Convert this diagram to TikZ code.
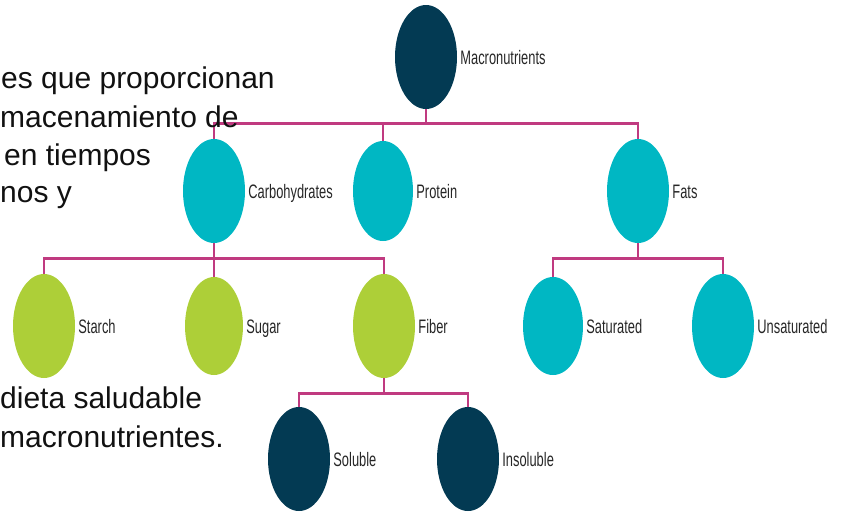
\documentclass[tikz,border=0pt]{standalone}
\usepackage{fontspec}
\setmainfont{Liberation Sans}
\newfontfamily\lblfont[FakeStretch=0.66]{Liberation Sans}
\usetikzlibrary{shapes.geometric}
\definecolor{navy}{RGB}{3,58,83}
\definecolor{teal}{RGB}{0,183,195}
\definecolor{lime}{RGB}{173,207,56}
\definecolor{conn}{RGB}{192,58,128}
\definecolor{bodytext}{RGB}{17,17,17}
\tikzset{
  blob/.style={ellipse, inner sep=0pt, minimum width=62pt, minimum height=104pt},
  navyblob/.style={blob, fill=navy},
  tealblob/.style={blob, fill=teal},
  limeblob/.style={blob, fill=lime},
  lbl/.style={anchor=base west, inner sep=0pt, xshift=3pt, yshift=-7pt,
    font=\lblfont\fontsize{19.5}{19.5}\selectfont, text=black!85},
  conline/.style={draw=conn, line width=2.6pt},
  body/.style={anchor=base west, inner sep=0pt, text=bodytext,
    font=\fontsize{30}{30}\selectfont}
}
\begin{document}
\begin{tikzpicture}[x=1pt,y=-1pt]
\useasboundingbox (0,0) rectangle (841,514);
% ellipses
\node[navyblob] (mac) at (426,57) {};
\node[tealblob] (carb) at (214,191) {};
\node[tealblob, minimum width=60pt, minimum height=100pt] (prot) at (383,191) {};
\node[tealblob] (fats) at (638,191) {};
\node[limeblob] (starch) at (44,326) {};
\node[limeblob, minimum width=58pt, minimum height=98pt] (sugar) at (214,326) {};
\node[limeblob] (fiber) at (384,326) {};
\node[tealblob, minimum width=60pt, minimum height=98pt] (sat) at (553,326) {};
\node[tealblob] (unsat) at (723,326) {};
\node[navyblob] (sol) at (299,459) {};
\node[navyblob] (insol) at (468,459) {};
% connectors
\draw[conline] (mac.south) -- ++(0,14) -| (carb.north);
\draw[conline] (mac.south) -- ++(0,14) -| (prot.north);
\draw[conline] (mac.south) -- ++(0,14) -| (fats.north);
\draw[conline] (carb.south) -- ++(0,15) -| (starch.north);
\draw[conline] (carb.south) -- ++(0,15) -| (sugar.north);
\draw[conline] (carb.south) -- ++(0,15) -| (fiber.north);
\draw[conline] (fats.south) -- ++(0,15) -| (sat.north);
\draw[conline] (fats.south) -- ++(0,15) -| (unsat.north);
\draw[conline] (fiber.south) -- ++(0,15) -| (sol.north);
\draw[conline] (fiber.south) -- ++(0,15) -| (insol.north);
% labels
\node[lbl] (macL) at (mac.east) {Macronutrients};
\node[lbl] (carbL) at (carb.east) {Carbohydrates};
\node[lbl] (protL) at (prot.east) {Protein};
\node[lbl] (fatsL) at (fats.east) {Fats};
\node[lbl] (starchL) at (starch.east) {Starch};
\node[lbl] (sugarL) at (sugar.east) {Sugar};
\node[lbl] (fiberL) at (fiber.east) {Fiber};
\node[lbl] (satL) at (sat.east) {Saturated};
\node[lbl] (unsatL) at (unsat.east) {Unsaturated};
\node[lbl] (solL) at (sol.east) {Soluble};
\node[lbl] (insolL) at (insol.east) {Insoluble};
% body text
\node[body] (t1) at (1,88) {es que proporcionan};
\node[body] (t2) at (0,127) {macenamiento de};
\node[body] (t3) at (4,165) {en tiempos};
\node[body] (t4) at (0,202) {nos y};
\node[body] (t5) at (0,408) {dieta saludable};
\node[body] (t6) at (0,447) {macronutrientes.};
\end{tikzpicture}
\end{document}
